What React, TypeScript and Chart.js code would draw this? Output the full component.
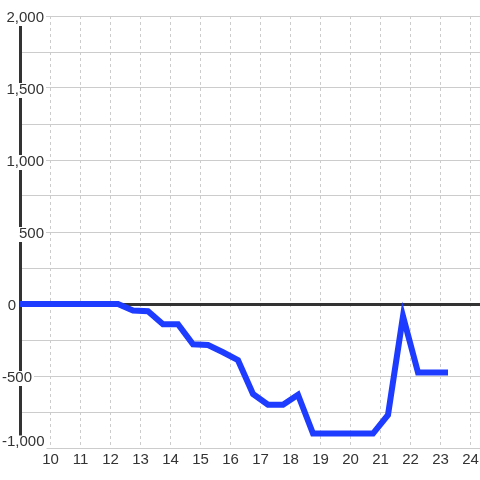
import { useEffect, useRef } from 'react';
import { Chart, registerables } from 'chart.js';

Chart.register(...registerables);

// ---- data ----
const hours = [8.75, 9.25, 9.75, 10.25, 10.75, 11.25, 11.75, 12.25, 12.75, 13.25, 13.75, 14.25, 14.75, 15.25, 15.75, 16.25, 16.75, 17.25, 17.75, 18.25, 18.75, 19.25, 19.75, 20.25, 20.75, 21.25, 21.75, 22.25, 22.75, 23.25];
const balance = [0, 0, 0, 0, 0, 0, 0, 0, -45, -50, -140, -140, -280, -285, -335, -390, -625, -700, -700, -630, -900, -900, -900, -900, -900, -770, -85, -475, -475, -475];
const xTicks = [10, 11, 12, 13, 14, 15, 16, 17, 18, 19, 20, 21, 22, 23, 24];
const yLabelTicks = [-1000, -500, 0, 500, 1000, 1500, 2000];

const X_MIN = 8.9833;
const X_MAX = 24.3167;
const Y_MIN = -1000;
const Y_MAX = 2000;
const Y_STEP = 250;

// ---- style ----
const FONT = { family: "'Liberation Sans', Arial, sans-serif", size: 15, lineHeight: 1 };
const X_FONT = { family: "'Liberation Sans', Arial, sans-serif", size: 15 };
const TEXT = '#333';
const GRID = '#cccccc';
const AXIS = '#333333';
const LINE = '#1e3cff';
const BACKDROP_PAD = { top: -1, bottom: 1, left: 2, right: 2 };
const LABEL_SHIFT = 1.5;

const fmt = (v: number) => Number(v).toLocaleString('en-US');

function labelAxis(values: number[], extra: any) {
  return {
    type: 'linear',
    position: 'left',
    weight: 0,
    min: Y_MIN,
    max: Y_MAX,
    grid: { display: false },
    border: { display: false },
    afterBuildTicks: (s: any) => {
      s.ticks = values.map((value) => ({ value }));
    },
    afterFit: (s: any) => {
      s.width = 0;
      s.paddingTop = 0;
      s.paddingBottom = 0;
    },
    ticks: {
      font: FONT,
      color: TEXT,
      autoSkip: false,
      mirror: true,
      labelOffset: LABEL_SHIFT,
      showLabelBackdrop: true,
      backdropColor: '#ffffff',
      backdropPadding: BACKDROP_PAD,
      callback: (v: any) => fmt(v),
      ...extra,
    },
  };
}

export default function App() {
  const ref = useRef<HTMLCanvasElement | null>(null);

  useEffect(() => {
    if (!ref.current) return;
    const isPosLabel = (v: number) => v > 0 && yLabelTicks.includes(v);
    const chart = new Chart(ref.current, {
      type: 'line',
      data: {
        datasets: [
          {
            data: hours.map((h, i) => ({ x: h, y: balance[i] })),
            borderColor: LINE,
            backgroundColor: LINE,
            borderWidth: 6,
            pointRadius: 0,
            tension: 0,
            fill: false,
          },
        ],
      },
      options: {
        animation: false,
        responsive: true,
        maintainAspectRatio: false,
        events: [],
        layout: { padding: { top: 16, left: 0, right: 0, bottom: 0 } },
        plugins: { legend: { display: false }, tooltip: { enabled: false } },
        scales: {
          x: {
            type: 'linear',
            min: X_MIN,
            max: X_MAX,
            afterBuildTicks: (s: any) => {
              s.ticks = xTicks.map((value) => ({ value }));
            },
            afterFit: (s: any) => {
              s.height = 32;
              s.paddingLeft = 0;
              s.paddingRight = 0;
            },
            grid: { color: GRID, lineWidth: 1, drawTicks: false },
            border: { display: false, dash: [3, 3] },
            ticks: {
              font: X_FONT,
              color: TEXT,
              padding: 3,
              autoSkip: false,
              maxRotation: 0,
              callback: (v: any) => String(v),
            },
          },
          y: {
            type: 'linear',
            position: 'left',
            weight: 10,
            min: Y_MIN,
            max: Y_MAX,
            afterFit: (s: any) => {
              s.width = 20;
              s.paddingTop = 0;
              s.paddingBottom = 0;
            },
            grid: {
              drawTicks: false,
              color: (ctx: any) => (ctx.tick && ctx.tick.value === 0 ? AXIS : GRID),
              lineWidth: (ctx: any) => (ctx.tick && ctx.tick.value === 0 ? 3 : 1),
            },
            border: { display: true, color: AXIS, width: 3 },
            ticks: {
              stepSize: Y_STEP,
              autoSkip: false,
              font: FONT,
              color: TEXT,
              mirror: true,
              crossAlign: 'far',
              padding: -13.5,
              labelOffset: LABEL_SHIFT,
              callback: (v: any) => (isPosLabel(Number(v)) ? fmt(Number(v)) : ''),
              showLabelBackdrop: (ctx: any) => !!(ctx.tick && isPosLabel(ctx.tick.value)),
              backdropColor: '#ffffff',
              backdropPadding: BACKDROP_PAD,
            },
          },
          yNeg: labelAxis(
            yLabelTicks.filter((v) => v < 0 && v > Y_MIN),
            { crossAlign: 'near', padding: -18 }
          ),
          yMin: labelAxis(
            yLabelTicks.filter((v) => v === Y_MIN),
            { crossAlign: 'near', padding: -18, labelOffset: -6 }
          ),
          yZero: labelAxis(
            yLabelTicks.filter((v) => v === 0),
            { crossAlign: 'center', padding: -12.2 }
          ),
        } as any,
      },
    } as any);
    return () => chart.destroy();
  }, []);

  return (
    <div style={{ position: 'fixed', left: 0, top: 0, width: 480, height: 480, background: '#fff' }}>
      <canvas ref={ref} />
    </div>
  );
}
